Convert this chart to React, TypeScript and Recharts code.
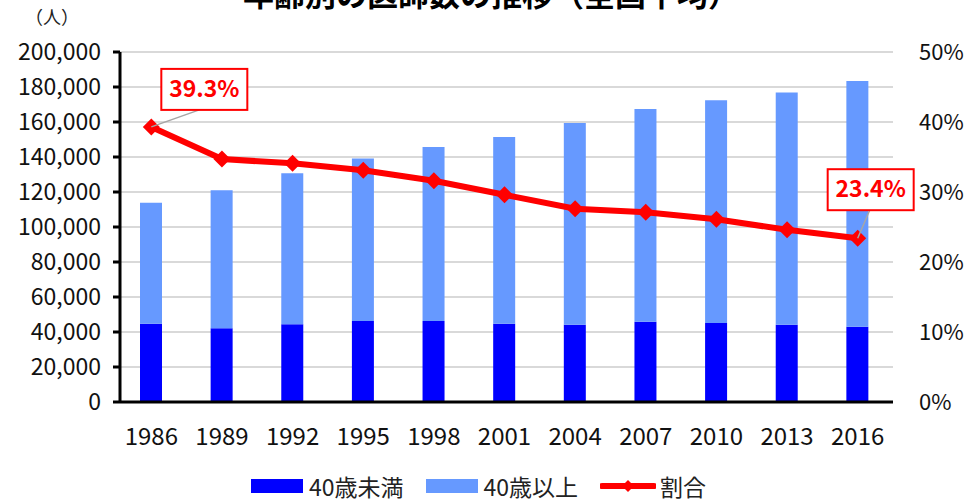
import {
  ComposedChart,
  Bar,
  Line,
  CartesianGrid,
  XAxis,
  YAxis,
  Legend,
  LabelList,
} from "recharts";

const years = ["1986", "1989", "1992", "1995", "1998", "2001", "2004", "2007", "2010", "2013", "2016"];
const under40 = [44700, 42100, 44400, 46300, 46300, 44700, 44200, 45900, 45100, 44200, 43000];
const over40 = [69200, 78900, 86300, 92900, 99400, 106700, 115200, 121500, 127300, 132600, 140400];
const ratio = [39.3, 34.7, 34.1, 33.1, 31.6, 29.6, 27.6, 27.1, 26.1, 24.6, 23.4];
const leftTicks = [0, 20000, 40000, 60000, 80000, 100000, 120000, 140000, 160000, 180000, 200000];
const rightTicks = [0, 10, 20, 30, 40, 50];

const data = years.map((y, i) => ({
  year: y,
  under40: under40[i],
  over40: over40[i],
  ratio: ratio[i],
}));

const FONT = "'Noto Sans CJK JP', 'Noto Sans', sans-serif";
const DARK = "#0000ff";
const LIGHT = "#6699ff";
const RED = "#ff0000";

function Diamond(props: any) {
  const { cx, cy } = props;
  if (cx == null || cy == null) return null;
  const r = 8.5;
  return (
    <polygon
      points={`${cx},${cy - r} ${cx + r},${cy} ${cx},${cy + r} ${cx - r},${cy}`}
      fill={RED}
    />
  );
}

// callout boxes for first and last point
function Callout(props: any) {
  const { x, y, value, index } = props;
  if (index !== 0 && index !== years.length - 1) return null;
  const first = index === 0;
  const bx = first ? x + 10 : x - 30;
  const by = first ? y - 58 : y - 69;
  const w = 86;
  const h = 41;
  const lx = first ? x + 48 : x + 12;
  return (
    <g>
      <line x1={x} y1={y} x2={lx} y2={by + h} stroke="#a6a6a6" strokeWidth={1.5} />
      <rect x={bx} y={by} width={w} height={h} fill="#fff" stroke={RED} strokeWidth={2} />
      <text
        x={bx + w / 2}
        y={by + h / 2 + 1}
        textAnchor="middle"
        dominantBaseline="middle"
        fill={RED}
        fontSize={23}
        fontWeight="bold"
        fontFamily={FONT}
      >
        {Number(value).toFixed(1)}%
      </text>
    </g>
  );
}

function LegendBox() {
  const item = { display: "flex", alignItems: "center", marginRight: 22 };
  const txt = { fontSize: 23, color: "#222", fontFamily: FONT, marginLeft: 6, lineHeight: "24px" };
  return (
    <div style={{ display: "flex", justifyContent: "center", height: 48, alignItems: "flex-end", paddingLeft: 14, boxSizing: "border-box", paddingBottom: 4 }}>
      <div style={item}>
        <div style={{ width: 52, height: 14, background: DARK }} />
        <span style={txt}>40歳未満</span>
      </div>
      <div style={item}>
        <div style={{ width: 52, height: 14, background: LIGHT }} />
        <span style={txt}>40歳以上</span>
      </div>
      <div style={item}>
        <svg width={56} height={14}>
          <line x1={2} y1={7} x2={54} y2={7} stroke={RED} strokeWidth={6} strokeLinecap="round" />
          <polygon points="28,1 34,7 28,13 22,7" fill={RED} />
        </svg>
        <span style={{ ...txt, marginLeft: 4 }}>割合</span>
      </div>
    </div>
  );
}

export default function App() {
  return (
    <div style={{ position: "absolute", left: 0, top: 0, width: 965, height: 502, background: "#fff", overflow: "hidden" }}>
      <svg width={965} height={60} style={{ position: "absolute", left: 0, top: 0 }}>
        <text x={243} y={6} fontSize={31} fontWeight="bold" fontFamily={FONT} fill="#000">
          年齢別の医師数の推移（全国平均）
        </text>
        <text x={52} y={24} textAnchor="middle" fontSize={18} fontFamily={FONT} fill="#222">
          （人）
        </text>
      </svg>
      <ComposedChart
        width={965}
        height={502}
        data={data}
        margin={{ top: 52, right: 0, left: 0, bottom: 0 }}
        barSize={22}
      >
        <CartesianGrid yAxisId="left" vertical={false} stroke="#d9d9d9" strokeWidth={2} />
        <XAxis
          dataKey="year"
          height={52}
          tickLine={false}
          axisLine={{ stroke: "#000", strokeWidth: 3 }}
          tick={{ fill: "#111", fontSize: 24, fontFamily: FONT }}
          tickMargin={20}
          padding={{ left: -4, right: 0 }}
        />
        <YAxis
          yAxisId="left"
          width={120}
          domain={[0, 200000]}
          ticks={leftTicks}
          interval={0}
          tickSize={7}
          tickMargin={12}
          tickLine={{ stroke: "#000", strokeWidth: 3 }}
          axisLine={{ stroke: "#000", strokeWidth: 3 }}
          tickFormatter={(v: number) => v.toLocaleString("en-US")}
          tick={{ fill: "#111", fontSize: 23, fontFamily: FONT }}
        />
        <YAxis
          yAxisId="right"
          orientation="right"
          width={72}
          domain={[0, 50]}
          ticks={rightTicks}
          interval={0}
          tickLine={false}
          axisLine={false}
          tickMargin={20}
          tickFormatter={(v: number) => `${v}%`}
          tick={{ fill: "#111", fontSize: 22, fontFamily: FONT }}
        />
        <Legend verticalAlign="bottom" content={() => <LegendBox />} />
        <Bar yAxisId="left" dataKey="under40" name="40歳未満" stackId="a" fill={DARK} isAnimationActive={false} />
        <Bar yAxisId="left" dataKey="over40" name="40歳以上" stackId="a" fill={LIGHT} isAnimationActive={false} />
        <Line
          yAxisId="right"
          dataKey="ratio"
          name="割合"
          type="linear"
          stroke={RED}
          strokeWidth={6}
          dot={<Diamond />}
          activeDot={false}
          isAnimationActive={false}
        >
          <LabelList dataKey="ratio" content={<Callout />} />
        </Line>
      </ComposedChart>
    </div>
  );
}
